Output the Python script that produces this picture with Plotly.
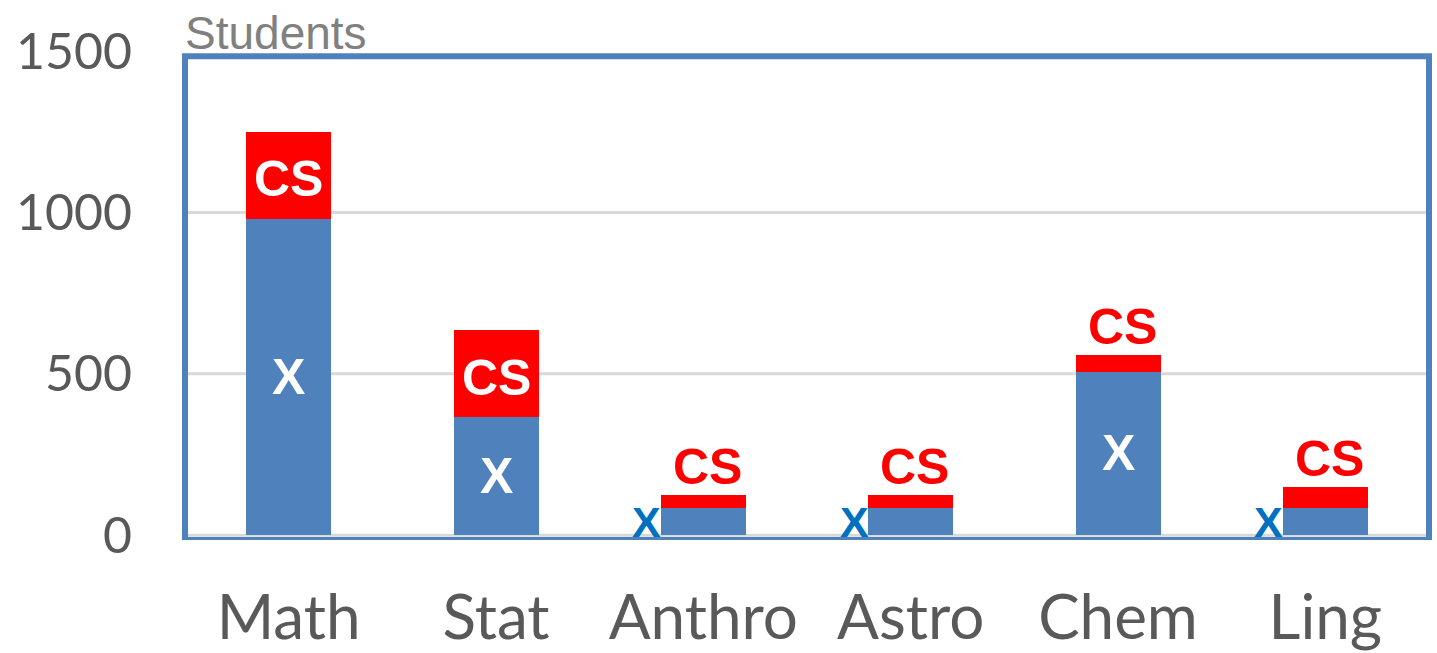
import plotly.graph_objects as go

categories = ["Math", "Stat", "Anthro", "Astro", "Chem", "Ling"]
x_students = [980, 365, 85, 85, 507, 85]
cs_students = [270, 270, 40, 40, 50, 63]
# label placement: True = inside the segment (white), False = outside (coloured)
x_inside = [True, True, False, False, True, False]
cs_inside = [True, True, False, False, False, False]
y_ticks = [0, 500, 1000, 1500]
grid_vals = [0, 500, 1000]

BLUE = "#4F81BD"
RED = "#FF0000"
LBLUE = "#0070C0"

fig = go.Figure()
fig.add_trace(go.Bar(x=categories, y=x_students, marker_color=BLUE, marker_line_width=0, name="X"))
fig.add_trace(go.Bar(x=categories, y=cs_students, marker_color=RED, marker_line_width=0, name="CS"))

annotations = []
for i, c in enumerate(categories):
    xv, cv = x_students[i], cs_students[i]
    if x_inside[i]:
        annotations.append(dict(x=c, y=xv / 2, text="<b>X</b>", showarrow=False,
                                font=dict(family="Liberation Sans", size=50, color="white"),
                                yanchor="middle", xanchor="center"))
    else:
        annotations.append(dict(x=c, y=xv / 2, text="<b>X</b>", showarrow=False,
                                font=dict(family="Liberation Sans", size=43, color=LBLUE),
                                yanchor="middle", xanchor="right", xshift=-40, yshift=-1))
    if cs_inside[i]:
        annotations.append(dict(x=c, y=xv + cv / 2, text="<b>CS</b>", showarrow=False,
                                font=dict(family="Liberation Sans", size=50, color="white"),
                                yanchor="middle", xanchor="center", yshift=-4))
    else:
        annotations.append(dict(x=c, y=xv + cv, text="<b>CS</b>", showarrow=False,
                                font=dict(family="Liberation Sans", size=50, color=RED),
                                yanchor="bottom", xanchor="center", xshift=4, yshift=-2))

annotations.append(dict(xref="paper", yref="paper", x=0, y=1, xanchor="left", yanchor="bottom",
                        xshift=-2, yshift=-10, text="Students", showarrow=False,
                        font=dict(family="Liberation Sans", size=46, color="#808080")))

shapes = []
for g in grid_vals:
    shapes.append(dict(type="line", xref="paper", yref="y", x0=0, x1=1, y0=g, y1=g,
                       line=dict(color="#D9D9D9", width=3), layer="below"))
shapes.append(dict(type="rect", xref="paper", yref="y", x0=0, x1=1, y0=-15, y1=1484,
                   line=dict(color=BLUE, width=6), layer="above"))

fig.update_layout(
    width=1437, height=653,
    barmode="stack", bargap=0.59,
    showlegend=False,
    plot_bgcolor="white", paper_bgcolor="white",
    margin=dict(l=185, r=8, t=51, b=113, autoexpand=False),
    annotations=annotations, shapes=shapes,
    xaxis=dict(showgrid=False, showline=False, zeroline=False, ticks="", automargin=False,
               tickfont=dict(family="Lato", size=62, color="#595959"),
               ticklabelstandoff=36),
    yaxis=dict(range=[-15, 1500], tickvals=y_ticks, showgrid=False, zeroline=False,
               showline=False, ticks="", automargin=False,
               tickfont=dict(family="Lato", size=50, color="#595959"),
               ticklabelstandoff=52),
)

fig.write_html("out.html", config={"displayModeBar": False},
               post_script="document.body.style.margin='0';document.body.style.overflow='hidden';")
